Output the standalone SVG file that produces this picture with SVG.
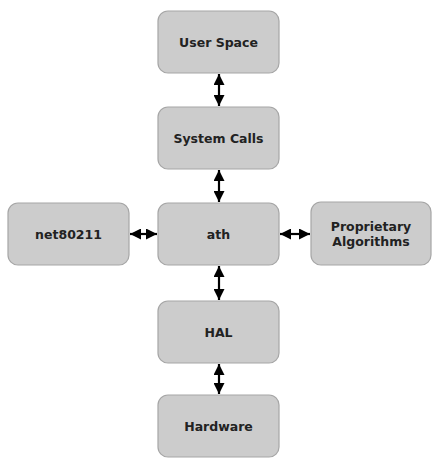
<svg xmlns="http://www.w3.org/2000/svg" width="433" height="458" viewBox="0 0 433 458">
<defs>
<style>
.box{fill:#cccccc;stroke:#a6a6a6;stroke-width:1.2}
.lbl{font-family:"DejaVu Sans",Verdana,sans-serif;font-weight:bold;font-size:12.5px;fill:#222;text-anchor:middle}
.conn{stroke:#000;stroke-width:2.2;fill:none;marker-start:url(#ah);marker-end:url(#ah)}
</style>
<marker id="ah" viewBox="0 0 10 10" refX="10" refY="5" markerWidth="11" markerHeight="11" markerUnits="userSpaceOnUse" orient="auto-start-reverse">
<path d="M0,0 L10,5 L0,10 Z" fill="#000"/>
</marker>
</defs>
<rect width="433" height="458" fill="#fff"/>
<g id="connectors">
<line class="conn" x1="219" y1="74" x2="219" y2="106"/>
<line class="conn" x1="219" y1="170" x2="219" y2="202"/>
<line class="conn" x1="219" y1="266" x2="219" y2="300"/>
<line class="conn" x1="219" y1="364" x2="219" y2="394"/>
<line class="conn" x1="130" y1="234" x2="157" y2="234"/>
<line class="conn" x1="280" y1="234" x2="310" y2="234"/>
</g>
<g id="user-space"><rect class="box" x="158" y="11" width="121" height="62" rx="10"/><text class="lbl" x="218.5" y="47">User Space</text></g>
<g id="system-calls"><rect class="box" x="158" y="107" width="121" height="62" rx="10"/><text class="lbl" x="218.5" y="143">System Calls</text></g>
<g id="ath"><rect class="box" x="158" y="203" width="121" height="62" rx="10"/><text class="lbl" x="218.5" y="239">ath</text></g>
<g id="net80211"><rect class="box" x="8" y="203" width="121" height="62" rx="10"/><text class="lbl" x="68.5" y="239">net80211</text></g>
<g id="proprietary"><rect class="box" x="311" y="202" width="120" height="63" rx="10"/><text class="lbl" x="371" y="231">Proprietary</text><text class="lbl" x="371" y="246">Algorithms</text></g>
<g id="hal"><rect class="box" x="158" y="301" width="121" height="62" rx="10"/><text class="lbl" x="218.5" y="337">HAL</text></g>
<g id="hardware"><rect class="box" x="158" y="395" width="121" height="62" rx="10"/><text class="lbl" x="218.5" y="431">Hardware</text></g>
</svg>
